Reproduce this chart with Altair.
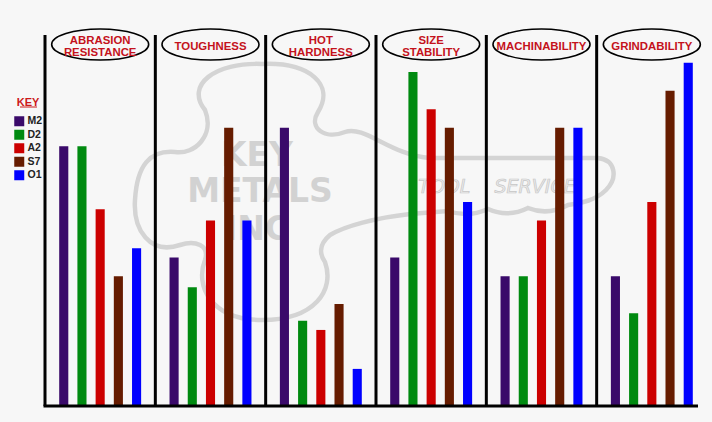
import altair as alt
import pandas as pd

# ---- data ----
properties = ["ABRASION\nRESISTANCE", "TOUGHNESS", "HOT\nHARDNESS", "SIZE\nSTABILITY", "MACHINABILITY", "GRINDABILITY"]
steels = ["M2", "D2", "A2", "S7", "O1"]
colors = ["#3a0a6a", "#008a10", "#cc0000", "#661c00", "#0000ff"]

abrasion = [7.0, 7.0, 5.3, 3.5, 4.25]
toughness = [4.0, 3.2, 5.0, 7.5, 5.0]
hot_hardness = [7.5, 2.3, 2.05, 2.75, 1.0]
size_stability = [4.0, 9.0, 8.0, 7.5, 5.5]
machinability = [3.5, 3.5, 5.0, 7.5, 7.5]
grindability = [3.5, 2.5, 5.5, 8.5, 9.25]

series = [abrasion, toughness, hot_hardness, size_stability, machinability, grindability]

rows = []
for p, vals in zip(properties, series):
    for s, v in zip(steels, vals):
        rows.append({"prop": p, "steel": s, "value": v})
df = pd.DataFrame(rows)
props_df = pd.DataFrame({"prop": properties, "lines": [p.count("\n") + 1 for p in properties]})

W, H = 662, 371
LEFT, TOP = 45, 35
TITLE_FONT = "Liberation Sans"

xscale = alt.Scale(domain=properties, paddingInner=0, paddingOuter=0)
yscale = alt.Scale(domain=[0, 10])

# ---- decorative watermark (key outline) ----
key_outline_px = [
    ("M", [(205, 110)]),
    ("C", [(185, 85), (215, 62), (262, 64)]),
    ("C", [(310, 62), (335, 85), (318, 112)]),
    ("C", [(308, 128), (325, 140), (345, 132)]),
    ("C", [(365, 125), (390, 155), (430, 158)]),
    ("L", [(598, 158)]),
    ("C", [(616, 160), (618, 178), (606, 190)]),
    ("C", [(596, 200), (582, 203), (568, 205)]),
    ("Q", [(548, 216), (528, 208)]),
    ("Q", [(508, 218), (488, 209)]),
    ("Q", [(468, 218), (448, 211)]),
    ("L", [(410, 214)]),
    ("C", [(375, 218), (345, 226), (330, 235)]),
    ("C", [(318, 245), (320, 255), (325, 262)]),
    ("C", [(335, 290), (315, 320), (262, 320)]),
    ("C", [(210, 320), (195, 285), (205, 260)]),
    ("C", [(210, 245), (195, 240), (180, 245)]),
    ("C", [(150, 255), (133, 230), (135, 200)]),
    ("C", [(137, 165), (150, 150), (175, 152)]),
    ("C", [(195, 155), (215, 135), (205, 110)]),
]
KCX, KCY, KS = 377.5, 190.0, 250.0
parts = []
for cmd, pts in key_outline_px:
    parts.append(cmd + " ".join(f"{(x - KCX) / KS:.4f},{(y - KCY) / KS:.4f}" for x, y in pts))
key_path = " ".join(parts) + " Z"

key_shape = alt.Chart(props_df.head(1)).mark_point(
    shape=key_path, size=(2 * KS) ** 2, filled=False, stroke="#d4d4d4", strokeWidth=4.5, opacity=1
).encode(x=alt.value(KCX - LEFT), y=alt.value(KCY - TOP))

wm = pd.DataFrame({"t": ["KEY", "METALS", "INC"], "x": [212, 215, 212], "y": [121, 157, 195]})
watermark = alt.Chart(wm).mark_text(
    font="DejaVu Sans", fontWeight="bold", fontSize=33, color="#d2d2d2"
).encode(x=alt.X("x:Q", scale=None), y=alt.Y("y:Q", scale=None), text="t:N")

wm2 = alt.Chart(pd.DataFrame({"t": ["TOOL\u00a0\u00a0\u00a0\u00a0SERVICE"]})).mark_text(
    font="DejaVu Sans", fontStyle="italic", fontSize=19, fill="#ececec", stroke="#c6c6c6", strokeWidth=0.7
).encode(x=alt.value(452), y=alt.value(152), text="t:N")

# ---- bars ----
bars = alt.Chart(df).mark_bar().encode(
    x=alt.X("prop:N", scale=xscale, sort=properties, axis=None),
    xOffset=alt.XOffset("steel:N", sort=steels, scale=alt.Scale(paddingInner=0.5, paddingOuter=0.78)),
    y=alt.Y("value:Q", scale=yscale, axis=None),
    color=alt.Color(
        "steel:N",
        sort=steels,
        scale=alt.Scale(domain=steels, range=colors),
        legend=alt.Legend(
            title="KEY", orient="none", legendX=-31, legendY=62,
            titleColor="#cc1a1a", titleFontSize=11, titleFont=TITLE_FONT, titleFontWeight="bold",
            titlePadding=8, titleAnchor="middle",
            symbolType="square", symbolSize=100, symbolStrokeWidth=0,
            labelFont=TITLE_FONT, labelFontSize=10.5, labelFontWeight="bold", labelColor="#222222",
            labelOffset=3, rowPadding=2.5,
        ),
    ),
)

key_underline = alt.Chart(props_df.head(1)).mark_rule(color="#cc1a1a", strokeWidth=1).encode(
    x=alt.value(-25), x2=alt.value(-8), y=alt.value(72)
)

separators = alt.Chart(props_df).mark_rule(color="black", strokeWidth=3).encode(
    x=alt.X("prop:N", scale=xscale, sort=properties, axis=None, bandPosition=0),
    y=alt.value(0), y2=alt.value(H),
)

baseline = alt.Chart(props_df.head(1)).mark_rule(color="black", strokeWidth=3).encode(
    x=alt.value(-1.5), x2=alt.value(653), y=alt.value(H)
)

ellipse_path = "M-1,0 A1,0.32 0 1,1 1,0 A1,0.32 0 1,1 -1,0 Z"
ellipses = alt.Chart(props_df).mark_point(
    shape=ellipse_path, size=97 * 97, filled=False, stroke="black", strokeWidth=1.6, opacity=1
).encode(
    x=alt.X("prop:N", scale=xscale, sort=properties, axis=None),
    y=alt.value(9.5),
)

title_style = dict(
    font=TITLE_FONT, fontWeight="bold", fontSize=11.4, color="#c4121c",
    lineBreak="\n", lineHeight=11.5, baseline="middle", align="center",
)
titles2 = alt.Chart(props_df).transform_filter("datum.lines == 2").mark_text(**title_style).encode(
    x=alt.X("prop:N", scale=xscale, sort=properties, axis=None),
    y=alt.value(6),
    text="prop:N",
)
titles1 = alt.Chart(props_df).transform_filter("datum.lines == 1").mark_text(**title_style).encode(
    x=alt.X("prop:N", scale=xscale, sort=properties, axis=None),
    y=alt.value(12),
    text="prop:N",
)

chart = alt.layer(
    key_shape, watermark, wm2, bars, separators, baseline, ellipses, titles2, titles1, key_underline
).properties(
    width=W, height=H,
    padding={"left": LEFT, "top": TOP, "right": 5, "bottom": 16},
    autosize="none",
    background="#f7f7f7",
).configure_view(stroke=None)

chart.save("out.html", embed_options={"renderer": "svg", "actions": False})
